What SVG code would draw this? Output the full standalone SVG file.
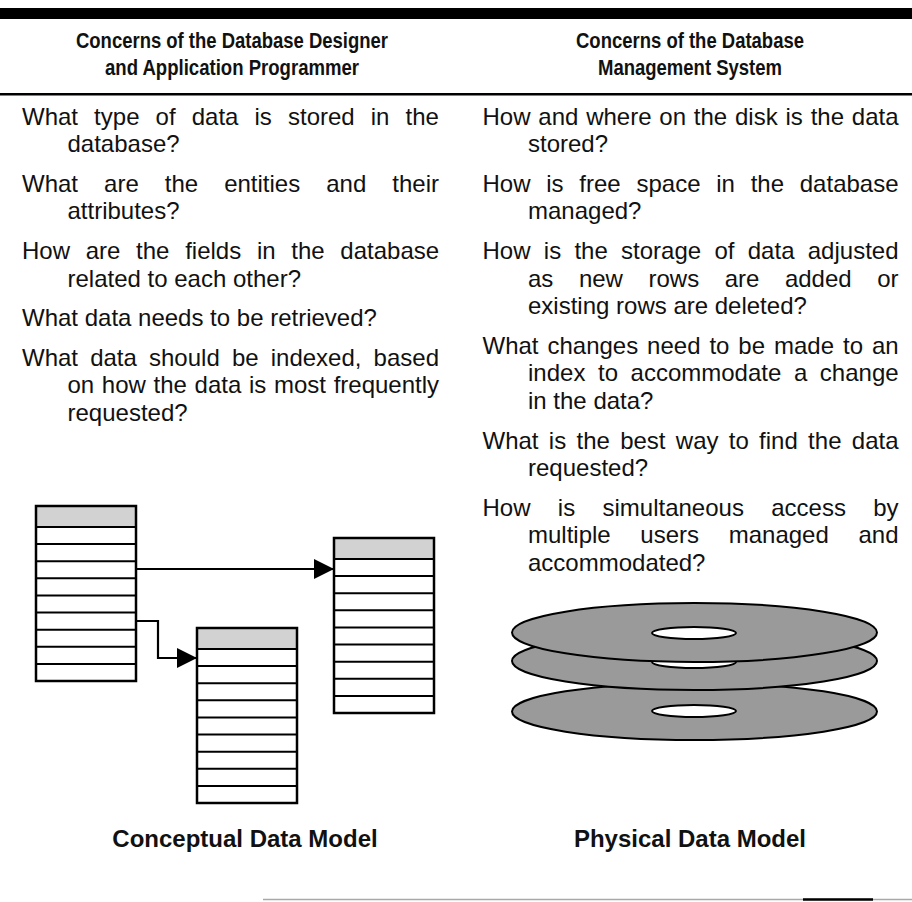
<svg xmlns="http://www.w3.org/2000/svg" xmlns:xlink="http://www.w3.org/1999/xlink" width="912" height="902" viewBox="0 0 912 902">
  <style>
    .hd { font-family: "Liberation Sans", Arial, sans-serif; font-size: 22px; font-weight: bold; fill: #111; text-anchor: middle; }
    .bd { font-family: "Liberation Sans", Arial, sans-serif; font-size: 24px; fill: #111; }
    .lbl { font-family: "Liberation Sans", Arial, sans-serif; font-size: 24px; font-weight: bold; fill: #111; text-anchor: middle; }
    .conn { fill: none; stroke: #000; stroke-width: 2.2; }
    .disk { fill: #9a9a9a; stroke: #000; stroke-width: 2; }
    .hole { fill: #fff; stroke: #000; stroke-width: 2; }
  </style>
  <defs>
    <marker id="arrow" viewBox="0 0 10 10" refX="10" refY="5" markerUnits="userSpaceOnUse" markerWidth="20" markerHeight="20" orient="auto">
      <path d="M0,0 L10,5 L0,10 z" fill="#000"/>
    </marker>
    <!-- table glyph: shaded title row + nine field rows -->
    <g id="table">
      <rect x="0" y="0" width="100" height="175" fill="#fff"/>
      <rect x="0" y="0" width="100" height="21" fill="#d2d2d2"/>
      <g stroke="#000" stroke-width="2">
        <line x1="0" y1="21" x2="100" y2="21"/>
        <line x1="0" y1="38.1" x2="100" y2="38.1"/>
        <line x1="0" y1="55.2" x2="100" y2="55.2"/>
        <line x1="0" y1="72.3" x2="100" y2="72.3"/>
        <line x1="0" y1="89.4" x2="100" y2="89.4"/>
        <line x1="0" y1="106.6" x2="100" y2="106.6"/>
        <line x1="0" y1="123.7" x2="100" y2="123.7"/>
        <line x1="0" y1="140.8" x2="100" y2="140.8"/>
        <line x1="0" y1="157.9" x2="100" y2="157.9"/>
      </g>
      <rect x="0" y="0" width="100" height="175" fill="none" stroke="#000" stroke-width="2.5"/>
    </g>
  </defs>

  <rect width="912" height="902" fill="#fff"/>

  <!-- rules -->
  <rect x="0" y="8" width="912" height="11" fill="#000"/>
  <rect x="0" y="93" width="912" height="2.5" fill="#000"/>
  <line x1="263" y1="899.5" x2="912" y2="899.5" stroke="#a8a8a8" stroke-width="1.5"/>
  <line x1="803" y1="899.5" x2="873" y2="899.5" stroke="#000" stroke-width="2.5"/>

  <!-- column headings (narrow bold face) -->
  <text class="hd" x="232" y="48" textLength="312" lengthAdjust="spacingAndGlyphs">Concerns of the Database Designer</text>
  <text class="hd" x="232" y="75" textLength="254" lengthAdjust="spacingAndGlyphs">and Application Programmer</text>
  <text class="hd" x="690" y="48" textLength="228" lengthAdjust="spacingAndGlyphs">Concerns of the Database</text>
  <text class="hd" x="690" y="75" textLength="184" lengthAdjust="spacingAndGlyphs">Management System</text>

  <!-- left column: designer / programmer questions -->
  <g id="designer-questions" class="bd">
    <text x="22" y="124.5" word-spacing="9.44">What type of data is stored in the</text>
    <text x="67.5" y="152.1">database?</text>
    <text x="22" y="191.7" word-spacing="19.36">What are the entities and their</text>
    <text x="67.5" y="219.3">attributes?</text>
    <text x="22" y="258.9" word-spacing="9.03">How are the fields in the database</text>
    <text x="67.5" y="286.5">related to each other?</text>
    <text x="22" y="326.1">What data needs to be retrieved?</text>
    <text x="22" y="365.7" word-spacing="5.48">What data should be indexed, based</text>
    <text x="67.5" y="393.3" word-spacing="1.0">on how the data is most frequently</text>
    <text x="67.5" y="420.9">requested?</text>
  </g>

  <!-- right column: DBMS questions -->
  <g id="dbms-questions" class="bd">
    <text x="482.5" y="124.5" word-spacing="1.14">How and where on the disk is the data</text>
    <text x="528" y="152.1">stored?</text>
    <text x="482.5" y="191.7" word-spacing="9.08">How is free space in the database</text>
    <text x="528" y="219.3">managed?</text>
    <text x="482.5" y="258.9" word-spacing="6.63">How is the storage of data adjusted</text>
    <text x="528" y="286.5" word-spacing="18.88">as new rows are added or</text>
    <text x="528" y="314.1">existing rows are deleted?</text>
    <text x="482.5" y="353.7" word-spacing="2.26">What changes need to be made to an</text>
    <text x="528" y="381.3" word-spacing="5.93">index to accommodate a change</text>
    <text x="528" y="408.9">in the data?</text>
    <text x="482.5" y="448.5" word-spacing="3.64">What is the best way to find the data</text>
    <text x="528" y="476.1">requested?</text>
    <text x="482.5" y="515.7" word-spacing="20.65">How is simultaneous access by</text>
    <text x="528" y="543.3" word-spacing="23.0">multiple users managed and</text>
    <text x="528" y="570.9">accommodated?</text>
  </g>

  <!-- conceptual model: three related tables -->
  <g id="table-a"><use xlink:href="#table" href="#table" x="36" y="506"/></g>
  <g id="table-b"><use xlink:href="#table" href="#table" x="334" y="538"/></g>
  <g id="table-c"><use xlink:href="#table" href="#table" x="197" y="628"/></g>

  <g id="connectors">
    <path class="conn" d="M137,569 H334" marker-end="url(#arrow)"/>
    <path class="conn" d="M137,621 H158 V658 H197" marker-end="url(#arrow)"/>
  </g>

  <!-- physical model: stacked disk platters -->
  <g id="disks">
    <ellipse class="disk" cx="694.5" cy="711.5" rx="182.5" ry="28.5"/>
    <ellipse class="hole" cx="694" cy="711" rx="42" ry="6"/>
    <ellipse class="disk" cx="694.5" cy="661" rx="182.5" ry="29"/>
    <ellipse class="hole" cx="694" cy="662" rx="42" ry="6"/>
    <ellipse class="disk" cx="694.5" cy="632.5" rx="182.5" ry="29.5"/>
    <ellipse class="hole" cx="694" cy="633" rx="42" ry="6"/>
  </g>

  <!-- captions -->
  <text class="lbl" x="245" y="847">Conceptual Data Model</text>
  <text class="lbl" x="690" y="847">Physical Data Model</text>
</svg>
